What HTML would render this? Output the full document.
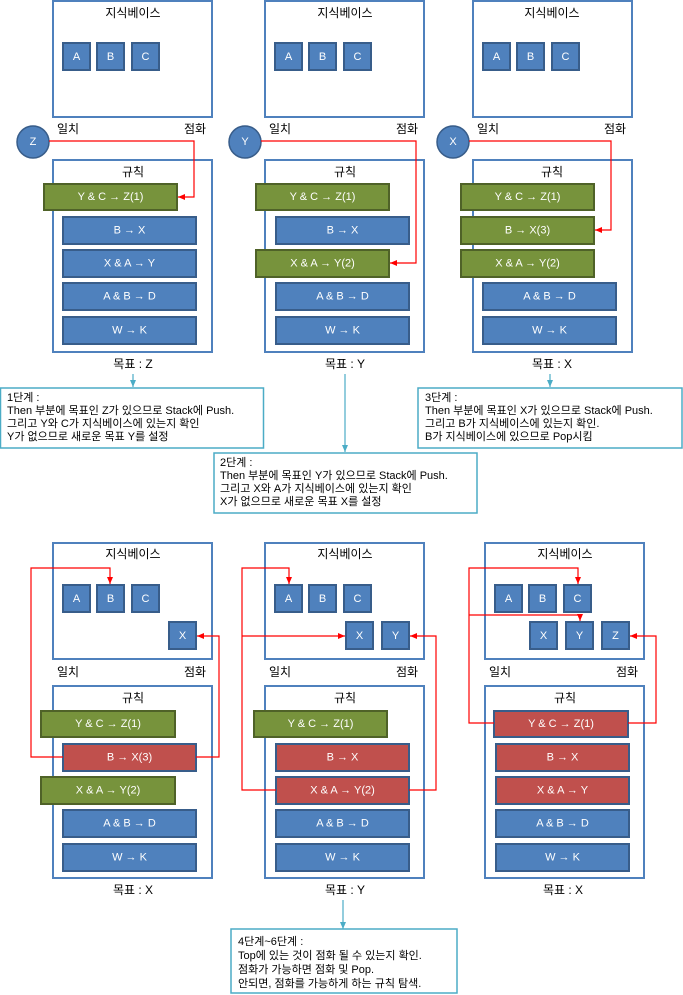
<!DOCTYPE html>
<html><head><meta charset="utf-8"><style>
html,body{margin:0;padding:0;background:#fff;}
svg{display:block;font-family:"Liberation Sans","Noto Sans CJK KR",sans-serif;}
.pn{fill:#fff;stroke:#4f81bd;stroke-width:2}
.b{fill:#4f81bd;stroke:#385d8a;stroke-width:2}
.g{fill:#77933c;stroke:#4f6228;stroke-width:2}
.r{fill:#c0504d;stroke:#385d8a;stroke-width:2}
.wt{fill:#fff;font-size:11px;text-anchor:middle;dominant-baseline:central}
.lb{fill:#000;font-size:12px;text-anchor:middle}
.tb{fill:#fff;stroke:#4bacc6;stroke-width:1.5}
.tx{fill:#000;font-size:11px}
.rl{fill:none;stroke:#ff0000;stroke-width:1.2}
.cl{fill:none;stroke:#4bacc6;stroke-width:1.2}
</style></head><body>
<svg width="683" height="995" viewBox="0 0 683 995" xmlns="http://www.w3.org/2000/svg">
<defs>
<marker id="ar" markerWidth="8" markerHeight="8" refX="7" refY="4" orient="auto" markerUnits="userSpaceOnUse"><path d="M0,1 L7,4 L0,7z" fill="#ff0000"/></marker>
<marker id="ac" markerWidth="8" markerHeight="8" refX="7" refY="4" orient="auto" markerUnits="userSpaceOnUse"><path d="M0,1 L7,4 L0,7z" fill="#4bacc6"/></marker>
</defs>

<!-- ============ PANEL 1 ============ -->
<rect class="pn" x="53" y="1" width="159" height="116"/>
<text class="lb" x="133" y="17">지식베이스</text>
<rect class="b" x="63" y="43" width="27" height="27"/><text class="wt" x="76.5" y="57">A</text>
<rect class="b" x="97" y="43" width="27" height="27"/><text class="wt" x="110.5" y="57">B</text>
<rect class="b" x="132" y="43" width="27" height="27"/><text class="wt" x="145.5" y="57">C</text>
<text class="lb" x="68" y="133">일치</text><text class="lb" x="195" y="133">점화</text>
<circle cx="33" cy="142" r="16" fill="#4f81bd" stroke="#385d8a" stroke-width="1.5"/><text class="wt" x="33" y="142">Z</text>
<rect class="pn" x="53" y="160" width="159" height="192"/>
<text class="lb" x="133" y="176">규칙</text>
<rect class="g" x="44" y="184" width="133" height="26"/><text class="wt" x="110.5" y="197">Y &amp; C → Z(1)</text>
<rect class="b" x="63" y="217" width="133" height="27"/><text class="wt" x="129.5" y="230.5">B → X</text>
<rect class="b" x="63" y="250" width="133" height="27"/><text class="wt" x="129.5" y="263.5">X &amp; A → Y</text>
<rect class="b" x="63" y="283" width="133" height="27"/><text class="wt" x="129.5" y="296.5">A &amp; B → D</text>
<rect class="b" x="63" y="317" width="133" height="27"/><text class="wt" x="129.5" y="330.5">W → K</text>
<polyline class="rl" points="49,141 194,141 194,197 178,197" marker-end="url(#ar)"/>
<text class="lb" x="133" y="368">목표 : Z</text>
<line class="cl" x1="133" y1="374" x2="133" y2="387" marker-end="url(#ac)"/>
<rect class="tb" x="0.5" y="388" width="263" height="60"/>
<text class="tx" x="7" y="401">1단계 :</text>
<text class="tx" x="7" y="414">Then 부분에 목표인 Z가 있으므로 Stack에 Push.</text>
<text class="tx" x="7" y="427">그리고 Y와 C가 지식베이스에 있는지 확인</text>
<text class="tx" x="7" y="440">Y가 없으므로 새로운 목표 Y를 설정</text>

<!-- ============ PANEL 2 ============ -->
<rect class="pn" x="265" y="1" width="159" height="116"/>
<text class="lb" x="345" y="17">지식베이스</text>
<rect class="b" x="275" y="43" width="27" height="27"/><text class="wt" x="288.5" y="57">A</text>
<rect class="b" x="309" y="43" width="27" height="27"/><text class="wt" x="322.5" y="57">B</text>
<rect class="b" x="344" y="43" width="27" height="27"/><text class="wt" x="357.5" y="57">C</text>
<text class="lb" x="280" y="133">일치</text><text class="lb" x="407" y="133">점화</text>
<circle cx="245" cy="142" r="16" fill="#4f81bd" stroke="#385d8a" stroke-width="1.5"/><text class="wt" x="245" y="142">Y</text>
<rect class="pn" x="265" y="160" width="159" height="192"/>
<text class="lb" x="345" y="176">규칙</text>
<rect class="g" x="256" y="184" width="133" height="26"/><text class="wt" x="322.5" y="197">Y &amp; C → Z(1)</text>
<rect class="b" x="276" y="217" width="133" height="27"/><text class="wt" x="342.5" y="230.5">B → X</text>
<rect class="g" x="256" y="250" width="133" height="27"/><text class="wt" x="322.5" y="263.5">X &amp; A → Y(2)</text>
<rect class="b" x="276" y="283" width="133" height="27"/><text class="wt" x="342.5" y="296.5">A &amp; B → D</text>
<rect class="b" x="276" y="317" width="133" height="27"/><text class="wt" x="342.5" y="330.5">W → K</text>
<polyline class="rl" points="261,141 416,141 416,263 390,263" marker-end="url(#ar)"/>
<text class="lb" x="345" y="368">목표 : Y</text>
<line class="cl" x1="345" y1="374" x2="345" y2="452" marker-end="url(#ac)"/>
<rect class="tb" x="214" y="453" width="263" height="60"/>
<text class="tx" x="220" y="466">2단계 :</text>
<text class="tx" x="220" y="479">Then 부분에 목표인 Y가 있으므로 Stack에 Push.</text>
<text class="tx" x="220" y="492">그리고 X와 A가 지식베이스에 있는지 확인</text>
<text class="tx" x="220" y="505">X가 없으므로 새로운 목표 X를 설정</text>

<!-- ============ PANEL 3 ============ -->
<rect class="pn" x="473" y="1" width="159" height="116"/>
<text class="lb" x="552" y="17">지식베이스</text>
<rect class="b" x="483" y="43" width="27" height="27"/><text class="wt" x="496.5" y="57">A</text>
<rect class="b" x="517" y="43" width="27" height="27"/><text class="wt" x="530.5" y="57">B</text>
<rect class="b" x="552" y="43" width="27" height="27"/><text class="wt" x="565.5" y="57">C</text>
<text class="lb" x="488" y="133">일치</text><text class="lb" x="615" y="133">점화</text>
<circle cx="453" cy="142" r="16" fill="#4f81bd" stroke="#385d8a" stroke-width="1.5"/><text class="wt" x="453" y="142">X</text>
<rect class="pn" x="473" y="160" width="159" height="192"/>
<text class="lb" x="552" y="176">규칙</text>
<rect class="g" x="461" y="184" width="133" height="26"/><text class="wt" x="527.5" y="197">Y &amp; C → Z(1)</text>
<rect class="g" x="461" y="217" width="133" height="27"/><text class="wt" x="527.5" y="230.5">B → X(3)</text>
<rect class="g" x="461" y="250" width="133" height="27"/><text class="wt" x="527.5" y="263.5">X &amp; A → Y(2)</text>
<rect class="b" x="483" y="283" width="133" height="27"/><text class="wt" x="549.5" y="296.5">A &amp; B → D</text>
<rect class="b" x="483" y="317" width="133" height="27"/><text class="wt" x="549.5" y="330.5">W → K</text>
<polyline class="rl" points="469,141 611,141 611,230 595,230" marker-end="url(#ar)"/>
<text class="lb" x="552" y="368">목표 : X</text>
<line class="cl" x1="550" y1="374" x2="550" y2="387" marker-end="url(#ac)"/>
<rect class="tb" x="418" y="388" width="264" height="60"/>
<text class="tx" x="425" y="401">3단계 :</text>
<text class="tx" x="425" y="414">Then 부분에 목표인 X가 있으므로 Stack에 Push.</text>
<text class="tx" x="425" y="427">그리고 B가 지식베이스에 있는지 확인.</text>
<text class="tx" x="425" y="440">B가 지식베이스에 있으므로 Pop시킴</text>

<!-- ============ PANEL 4 ============ -->
<rect class="pn" x="53" y="543" width="159" height="116"/>
<text class="lb" x="133" y="558">지식베이스</text>
<rect class="b" x="63" y="585" width="27" height="27"/><text class="wt" x="76.5" y="599">A</text>
<rect class="b" x="97" y="585" width="27" height="27"/><text class="wt" x="110.5" y="599">B</text>
<rect class="b" x="132" y="585" width="27" height="27"/><text class="wt" x="145.5" y="599">C</text>
<rect class="b" x="169" y="622" width="27" height="27"/><text class="wt" x="182.5" y="636">X</text>
<text class="lb" x="68" y="676">일치</text><text class="lb" x="195" y="676">점화</text>
<rect class="pn" x="53" y="686" width="159" height="192"/>
<text class="lb" x="133" y="702">규칙</text>
<rect class="g" x="41" y="711" width="134" height="26"/><text class="wt" x="108" y="724">Y &amp; C → Z(1)</text>
<rect class="r" x="63" y="744" width="133" height="27"/><text class="wt" x="129.5" y="757.5">B → X(3)</text>
<rect class="g" x="41" y="777" width="134" height="27"/><text class="wt" x="108" y="790.5">X &amp; A → Y(2)</text>
<rect class="b" x="63" y="810" width="133" height="27"/><text class="wt" x="129.5" y="823.5">A &amp; B → D</text>
<rect class="b" x="63" y="844" width="133" height="27"/><text class="wt" x="129.5" y="857.5">W → K</text>
<polyline class="rl" points="63,757 31,757 31,568 110,568 110,584" marker-end="url(#ar)"/>
<polyline class="rl" points="196,757 219,757 219,636 197,636" marker-end="url(#ar)"/>
<text class="lb" x="133" y="894">목표 : X</text>

<!-- ============ PANEL 5 ============ -->
<rect class="pn" x="265" y="543" width="159" height="116"/>
<text class="lb" x="345" y="558">지식베이스</text>
<rect class="b" x="275" y="585" width="27" height="27"/><text class="wt" x="288.5" y="599">A</text>
<rect class="b" x="309" y="585" width="27" height="27"/><text class="wt" x="322.5" y="599">B</text>
<rect class="b" x="344" y="585" width="27" height="27"/><text class="wt" x="357.5" y="599">C</text>
<rect class="b" x="346" y="622" width="27" height="27"/><text class="wt" x="359.5" y="636">X</text>
<rect class="b" x="382" y="622" width="27" height="27"/><text class="wt" x="395.5" y="636">Y</text>
<text class="lb" x="280" y="676">일치</text><text class="lb" x="407" y="676">점화</text>
<rect class="pn" x="265" y="686" width="159" height="192"/>
<text class="lb" x="345" y="702">규칙</text>
<rect class="g" x="254" y="711" width="133" height="26"/><text class="wt" x="320.5" y="724">Y &amp; C → Z(1)</text>
<rect class="r" x="276" y="744" width="133" height="27"/><text class="wt" x="342.5" y="757.5">B → X</text>
<rect class="r" x="276" y="777" width="133" height="27"/><text class="wt" x="342.5" y="790.5">X &amp; A → Y(2)</text>
<rect class="b" x="276" y="810" width="133" height="27"/><text class="wt" x="342.5" y="823.5">A &amp; B → D</text>
<rect class="b" x="276" y="844" width="133" height="27"/><text class="wt" x="342.5" y="857.5">W → K</text>
<polyline class="rl" points="276,790 242,790 242,568 289,568 289,584" marker-end="url(#ar)"/>
<polyline class="rl" points="242,636 345,636" marker-end="url(#ar)"/>
<polyline class="rl" points="409,790 436,790 436,636 410,636" marker-end="url(#ar)"/>
<text class="lb" x="345" y="894">목표 : Y</text>
<line class="cl" x1="343" y1="900" x2="343" y2="929" marker-end="url(#ac)"/>
<rect class="tb" x="231" y="929" width="226" height="64"/>
<text class="tx" x="238" y="945">4단계~6단계 :</text>
<text class="tx" x="238" y="959">Top에 있는 것이 점화 될 수 있는지 확인.</text>
<text class="tx" x="238" y="973">점화가 가능하면 점화 및 Pop.</text>
<text class="tx" x="238" y="987">안되면, 점화를 가능하게 하는 규칙 탐색.</text>

<!-- ============ PANEL 6 ============ -->
<rect class="pn" x="485" y="543" width="159" height="116"/>
<text class="lb" x="565" y="558">지식베이스</text>
<rect class="b" x="495" y="585" width="27" height="27"/><text class="wt" x="508.5" y="599">A</text>
<rect class="b" x="529" y="585" width="27" height="27"/><text class="wt" x="542.5" y="599">B</text>
<rect class="b" x="564" y="585" width="27" height="27"/><text class="wt" x="577.5" y="599">C</text>
<rect class="b" x="530" y="622" width="27" height="27"/><text class="wt" x="543.5" y="636">X</text>
<rect class="b" x="566" y="622" width="27" height="27"/><text class="wt" x="579.5" y="636">Y</text>
<rect class="b" x="602" y="622" width="27" height="27"/><text class="wt" x="615.5" y="636">Z</text>
<text class="lb" x="500" y="676">일치</text><text class="lb" x="627" y="676">점화</text>
<rect class="pn" x="485" y="686" width="159" height="192"/>
<text class="lb" x="565" y="702">규칙</text>
<rect class="r" x="494" y="711" width="134" height="26"/><text class="wt" x="561" y="724">Y &amp; C → Z(1)</text>
<rect class="r" x="496" y="744" width="133" height="27"/><text class="wt" x="562.5" y="757.5">B → X</text>
<rect class="r" x="496" y="777" width="133" height="27"/><text class="wt" x="562.5" y="790.5">X &amp; A → Y</text>
<rect class="b" x="496" y="810" width="133" height="27"/><text class="wt" x="562.5" y="823.5">A &amp; B → D</text>
<rect class="b" x="496" y="844" width="133" height="27"/><text class="wt" x="562.5" y="857.5">W → K</text>
<polyline class="rl" points="494,723 469,723 469,568 578,568 578,584" marker-end="url(#ar)"/>
<polyline class="rl" points="469,615 580,615 580,621" marker-end="url(#ar)"/>
<polyline class="rl" points="628,723 656,723 656,636 630,636" marker-end="url(#ar)"/>
<text class="lb" x="563" y="894">목표 : X</text>
</svg>
</body></html>
